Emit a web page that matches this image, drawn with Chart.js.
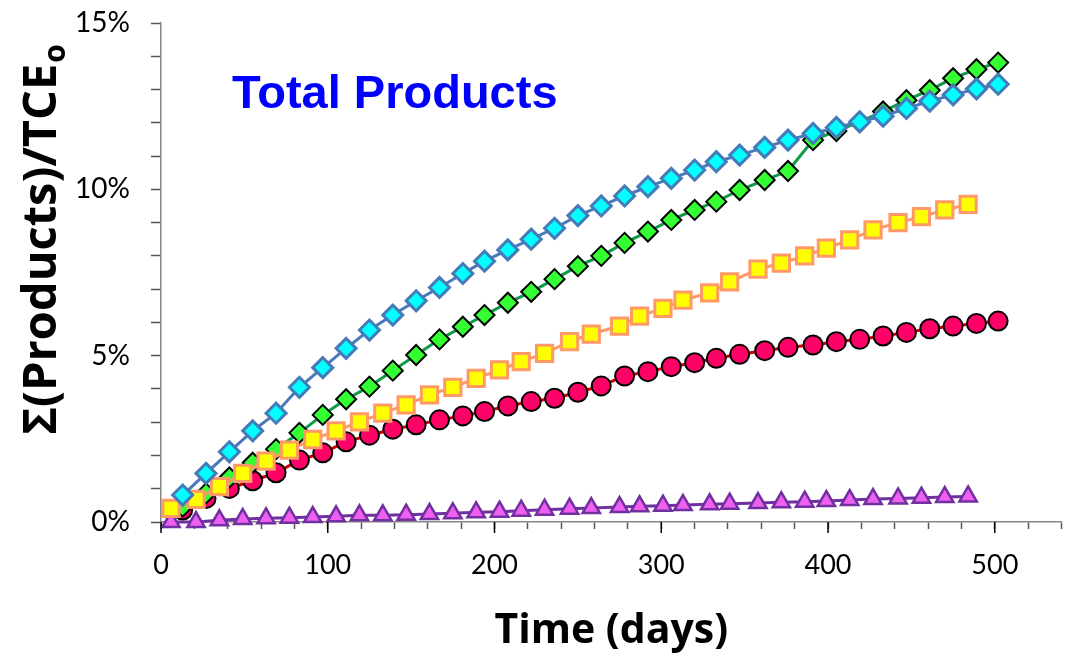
<!DOCTYPE html>
<html>
<head>
<meta charset="utf-8">
<script src="https://cdn.jsdelivr.net/npm/chart.js@4.4.0/dist/chart.umd.min.js"></script>
<style>
  html, body { margin: 0; padding: 0; background: #fff; }
</style>
</head>
<body>
<canvas id="chart" width="1076" height="656"></canvas>
<script>
// sampling times (days)
const daysA = [13, 27, 41, 55, 69, 83, 97, 111, 125, 139, 153, 167, 181, 194, 208, 222, 236, 250,
  264, 278, 292, 306, 320, 333, 347, 362, 376, 391, 405, 419, 433, 447, 461, 475, 489, 502];
const daysB = [6, 21, 35, 49, 63, 77, 91, 105, 119, 133, 147, 161, 175, 189, 203, 216, 230, 245,
  258, 275, 287, 301, 313, 329, 341, 358, 372, 386, 399, 413, 427, 442, 456, 470, 484];

// sum of products / TCE0, in %
const cyanVals = [0.81, 1.46, 2.11, 2.74, 3.27, 4.05, 4.64, 5.22, 5.77, 6.22, 6.65, 7.05, 7.47, 7.84, 8.18, 8.50, 8.83, 9.21,
  9.50, 9.80, 10.08, 10.33, 10.58, 10.83, 11.03, 11.26, 11.48, 11.68, 11.86, 12.03, 12.2, 12.43, 12.65, 12.84, 13.02, 13.16];
const greenVals = [0.46, 0.86, 1.34, 1.78, 2.19, 2.68, 3.22, 3.69, 4.07, 4.55, 5.02, 5.49, 5.87, 6.22, 6.59, 6.92, 7.30, 7.69,
  8.0, 8.39, 8.73, 9.08, 9.38, 9.63, 9.98, 10.28, 10.55, 11.48, 11.75, 12.03, 12.34, 12.68, 12.98, 13.34, 13.61, 13.81];
const redVals = [0.36, 0.71, 1.01, 1.24, 1.48, 1.86, 2.08, 2.41, 2.61, 2.79, 2.92, 3.07, 3.19, 3.32, 3.49, 3.62, 3.72, 3.90,
  4.09, 4.39, 4.52, 4.67, 4.79, 4.92, 5.04, 5.15, 5.25, 5.32, 5.42, 5.49, 5.59, 5.70, 5.81, 5.89, 5.97, 6.04];
const yellowVals = [0.41, 0.68, 1.06, 1.46, 1.83, 2.16, 2.48, 2.74, 3.01, 3.27, 3.52, 3.82, 4.05, 4.32, 4.57, 4.82, 5.07, 5.42,
  5.65, 5.89, 6.19, 6.42, 6.67, 6.89, 7.22, 7.60, 7.78, 8.0, 8.23, 8.48, 8.78, 9.0, 9.18, 9.38, 9.55];
const purpleVals = [0.0, 0.0, 0.05, 0.09, 0.11, 0.13, 0.15, 0.17, 0.2, 0.2, 0.22, 0.24, 0.26, 0.29, 0.31, 0.34, 0.37, 0.40,
  0.42, 0.45, 0.47, 0.49, 0.51, 0.53, 0.55, 0.57, 0.59, 0.61, 0.63, 0.66, 0.69, 0.71, 0.73, 0.75, 0.77];

const chartTitle = "Total Products";
const xTitle = "Time (days)";
const yTitleMain = "\u03A3(Products)/TCE";
const yTitleSub = "o";

const pts = (xs, ys) => xs.map((x, i) => ({ x: x, y: ys[i] }));

function series(data, line, fill, edge, style, r, bw, order) {
  return {
    data: data,
    borderColor: line,
    borderWidth: 3,
    pointStyle: style,
    pointRadius: r,
    pointBackgroundColor: fill,
    pointBorderColor: edge,
    pointBorderWidth: bw,
    tension: 0,
    clip: false,
    order: order
  };
}

// text drawn on the canvas: title inside plot, rotated y title with subscript, long major x ticks
const extras = {
  id: 'extras',
  afterDraw(chart) {
    const c = chart.ctx;
    const xs = chart.scales.x;
    c.save();
    c.strokeStyle = '#000';
    c.lineWidth = 1.5;
    xs.ticks.forEach(t => {
      if (t.value % 100 === 0) {
        const px = xs.getPixelForValue(t.value);
        c.beginPath();
        c.moveTo(px, xs.top);
        c.lineTo(px, xs.top + 11);
        c.stroke();
      }
    });

    c.fillStyle = '#0000FF';
    c.font = 'bold 47px "Liberation Sans"';
    c.textBaseline = 'alphabetic';
    c.textAlign = 'left';
    c.fillText(chartTitle, 232, 108);

    c.fillStyle = '#000';
    c.translate(56, 240);
    c.rotate(-Math.PI / 2);
    c.font = 'bold 47px "Open Sans"';
    const w = c.measureText(yTitleMain).width;
    c.font = 'bold 30px "Open Sans"';
    const ws = c.measureText(yTitleSub).width;
    const x0 = -(w + ws) / 2;
    c.font = 'bold 47px "Open Sans"';
    c.fillText(yTitleMain, x0, 0);
    c.font = 'bold 30px "Open Sans"';
    c.fillText(yTitleSub, x0 + w + 1, 9);
    c.restore();
  }
};

new Chart(document.getElementById('chart'), {
  type: 'line',
  data: {
    datasets: [
      series(pts(daysA, cyanVals), '#467AB8', '#00FFFF', '#467AB8', 'rectRot', 10, 3, 0),
      series(pts(daysB, yellowVals), '#FF9966', '#FFFF00', '#FF9966', 'rect', 11.5, 3, 1),
      series(pts(daysA, greenVals), '#0E9A48', '#33FF33', '#000000', 'rectRot', 10, 2, 2),
      series(pts(daysA, redVals), '#CC0000', '#FF0066', '#000000', 'circle', 9.5, 2, 3),
      series(pts(daysB, purpleVals), '#7030A0', '#F060F0', '#7030A0', 'triangle', 10, 2.5, 4)
    ]
  },
  options: {
    responsive: false,
    animation: false,
    devicePixelRatio: 1,
    layout: { padding: { top: 23, right: 12, left: 0, bottom: 0 } },
    plugins: {
      legend: { display: false },
      tooltip: { enabled: false }
    },
    scales: {
      x: {
        type: 'linear',
        min: 0,
        max: 540,
        afterFit: (s) => { s.height = 134; s.paddingLeft = 0; s.paddingRight = 0; },
        border: { color: '#868686', width: 1.5 },
        grid: { drawOnChartArea: false, tickLength: 7, tickColor: '#555', tickWidth: 1.5 },
        ticks: {
          stepSize: 20,
          autoSkip: false,
          maxRotation: 0,
          padding: 20,
          color: '#000',
          font: { family: 'Lato', size: 27 },
          callback: (v) => (v % 100 === 0 ? v : '')
        },
        title: {
          display: true,
          text: xTitle,
          color: '#000',
          font: { family: 'Open Sans', size: 41, weight: 'bold' },
          padding: { top: 0, bottom: 0 }
        }
      },
      y: {
        min: 0,
        max: 15,
        afterFit: (s) => { s.width = 161; s.paddingTop = 0; s.paddingBottom = 0; },
        border: { color: '#868686', width: 1.5 },
        grid: { drawOnChartArea: false, tickLength: 10, tickColor: '#555', tickWidth: 1.5 },
        ticks: {
          stepSize: 1,
          autoSkip: false,
          padding: 21,
          color: '#000',
          font: { family: 'Lato', size: 28 },
          callback: (v) => (v % 5 === 0 ? v + '%' : '')
        }
      }
    }
  },
  plugins: [extras]
});
</script>
</body>
</html>
